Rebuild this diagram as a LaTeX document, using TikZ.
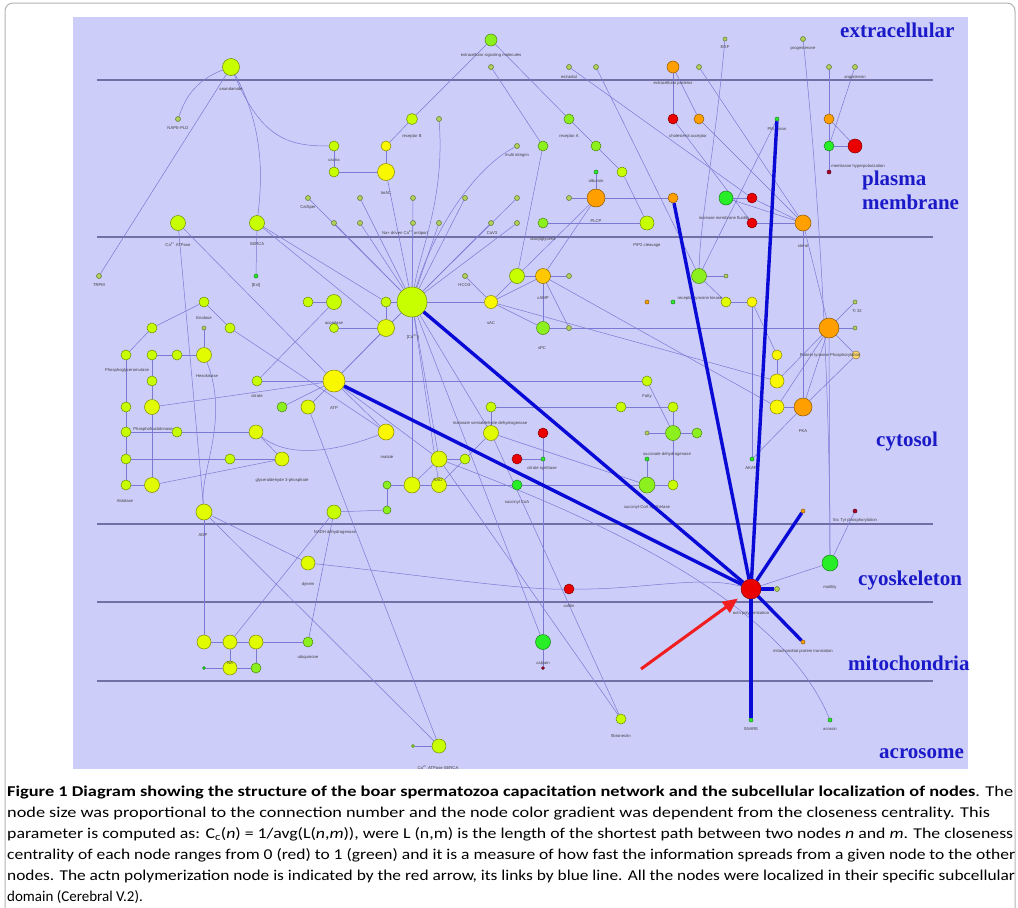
\documentclass[tikz,border=0pt]{standalone}
\usepackage{fontspec}
\usepackage{graphicx}
\usetikzlibrary{arrows.meta}
\newfontfamily\capfont{Carlito}
\newfontfamily\regfont{Liberation Serif}
\newfontfamily\lblfont{Liberation Sans}
\definecolor{panel}{RGB}{205,205,250}
\definecolor{sepc}{RGB}{112,112,165}
\definecolor{edgec}{RGB}{122,122,212}
\definecolor{thickc}{RGB}{10,10,215}
\definecolor{regc}{RGB}{26,26,200}
\definecolor{clime}{RGB}{200,255,0}
\definecolor{cylime}{RGB}{225,252,0}
\definecolor{cyellow}{RGB}{250,248,0}
\definecolor{cgold}{RGB}{255,200,0}
\definecolor{cglime}{RGB}{140,240,30}
\definecolor{cgreen}{RGB}{40,238,40}
\definecolor{corange}{RGB}{255,160,0}
\definecolor{clorange}{RGB}{255,215,110}
\definecolor{cred}{RGB}{235,0,0}
\definecolor{cdred}{RGB}{170,0,40}
\definecolor{ctiny}{RGB}{175,210,90}
\definecolor{arrc}{RGB}{240,30,30}
\pgfdeclarelayer{back}
\pgfdeclarelayer{edges}
\pgfsetlayers{back,edges,main}
\newcommand\mk[5]{\node[nd={#4}{#5}] (#1) at (#2,#3) {};}
\newcounter{lbc}
\newcommand\lbl[3]{\stepcounter{lbc}\node[lb] (lab\arabic{lbc}) at (#1,#2) {#3};}
\begin{document}
\begin{tikzpicture}[x=1pt,y=-1pt,
  nd/.style 2 args={circle,fill=#1,draw=#1!55!black,line width=0.5pt,inner sep=0pt,minimum size=#2pt},
  lb/.style={font=\lblfont\fontsize{4.2}{5}\selectfont,text=black!75,inner sep=0pt},
  ed/.style={draw=edgec,line width=0.5pt},
  thk/.style={draw=thickc,line width=3.4pt},
  region/.style={font=\regfont\bfseries\fontsize{21}{24}\selectfont,text=regc,inner sep=0pt,align=left,anchor=west},
  sepline/.style={draw=sepc,line width=1.2pt},
  arr/.style={draw=arrc,line width=3pt,-{Triangle[length=15pt,width=13pt]}},
  capline/.style={anchor=base west,inner sep=0pt,font=\capfont\fontsize{15}{18}\selectfont}
]
\useasboundingbox (0,0) rectangle (1018,908);
\begin{pgfonlayer}{back}
\draw[gray!60,line width=1pt,rounded corners=8pt] (5,3) rectangle (1015,930);
\fill[panel] (73,17) rectangle (968,769);
\foreach \yy in {80,237,524,602,681} \draw[sepline] (97,\yy) -- (933,\yy);
\end{pgfonlayer}

% region names
\node[region] (rext) at (840,30) {extracellular};
\node[region] (rpm) at (862,190) {plasma\\membrane};
\node[region] (rcyt) at (876,441) {cytosol};
\node[region] (rcsk) at (858,580) {cyoskeleton};
\node[region] (rmit) at (848,663) {mitochondria};
\node[region] (racr) at (879,754) {acrosome};

% ---- extracellular
\mk{n1}{231}{67}{clime}{17}
\mk{n2}{491}{40}{cglime}{12}
\mk{n3}{491}{67}{ctiny}{5}
\mk{n4}{569}{67}{ctiny}{5}
\mk{n5}{596}{67}{ctiny}{5}
\mk{n6}{673}{67}{corange}{12}
\mk{n7}{699}{67}{ctiny}{5}
\mk{n8}{725}{39}{ctiny}{4}
\mk{n9}{803}{39}{ctiny}{5}
\mk{n10}{829}{67}{ctiny}{5}
\mk{n11}{855}{67}{ctiny}{5}
\lbl{231}{89}{anandamide}
\lbl{491}{55}{extracellular signaling molecules}
\lbl{569}{77}{estradiol}
\lbl{673}{83}{extracellular proteins}
\lbl{725}{47}{EGF}
\lbl{803}{49}{progesterone}
\lbl{855}{77}{angiotensin}

% ---- plasma membrane
\mk{p1}{178}{119}{ctiny}{5}
\mk{p2}{334}{146}{clime}{10}
\mk{p3}{334}{172}{clime}{10}
\mk{p4}{386}{146}{cyellow}{10}
\mk{p5}{386}{172}{cyellow}{17}
\mk{p6}{412}{119}{clime}{11}
\mk{p7}{439}{119}{ctiny}{5}
\mk{p8}{517}{146}{ctiny}{5}
\mk{p9}{543}{146}{cglime}{10}
\mk{p10}{569}{119}{cglime}{10}
\mk{p11}{596}{146}{cglime}{10}
\mk{p12}{622}{172}{clime}{10}
\mk{p13}{596}{172}{cgreen}{4}
\mk{p14}{596}{198}{corange}{18}
\mk{p15}{569}{198}{ctiny}{5}
\mk{p16}{673}{198}{corange}{10}
\mk{p17}{308}{198}{ctiny}{5}
\mk{p18}{360}{198}{ctiny}{5}
\mk{p19}{334}{223}{ctiny}{5}
\mk{p20}{360}{223}{ctiny}{5}
\mk{p21}{413}{198}{ctiny}{5}
\mk{p22}{465}{198}{ctiny}{5}
\mk{p23}{517}{198}{ctiny}{5}
\mk{p24}{413}{223}{ctiny}{5}
\mk{p25}{439}{223}{ctiny}{5}
\mk{p26}{491}{223}{ctiny}{5}
\mk{p27}{517}{223}{ctiny}{5}
\mk{p28}{543}{223}{cglime}{10}
\mk{p29}{647}{223}{clime}{14}
\mk{p30}{178}{223}{clime}{15}
\mk{p31}{257}{223}{clime}{15}
\mk{p32}{673}{119}{cred}{10}
\mk{p33}{699}{119}{corange}{10}
\mk{p34}{777}{119}{cgreen}{4}
\mk{p35}{829}{119}{corange}{10}
\mk{p36}{829}{146}{cgreen}{10}
\mk{p37}{855}{146}{cred}{14}
\mk{p38}{829}{172}{cdred}{4}
\mk{p39}{726}{198}{cgreen}{14}
\mk{p40}{752}{198}{cred}{10}
\mk{p41}{752}{223}{cred}{10}
\mk{p42}{803}{223}{corange}{16}
\lbl{178}{128}{NAPE-PLD}
\lbl{334}{160}{cacna}
\lbl{386}{193}{tmAC}
\lbl{412}{136}{receptor B}
\lbl{517}{155}{multi integrin}
\lbl{569}{136}{receptor A}
\lbl{596}{181}{albumin}
\lbl{308}{207}{CatSper}
\lbl{405}{233}{Na+ driven Ca\textsuperscript{2+} antiport}
\lbl{492}{233}{CaV3}
\lbl{543}{239}{diacylglycerol}
\lbl{596}{221}{PLCP}
\lbl{647}{245}{PIP2 cleavage}
\lbl{178}{244}{Ca\textsuperscript{2+} ATPase}
\lbl{257}{244}{SERCA}
\lbl{688}{136}{cholesterol acceptor}
\lbl{777}{129}{PM fusion}
\lbl{858}{166}{membrane hyperpolarization}
\lbl{724}{218}{increase membrane fluidity}
\lbl{803}{246}{sterol}

% ---- cytosol
\mk{c1}{99}{276}{ctiny}{5}
\mk{c2}{256}{276}{cgreen}{4}
\mk{c3}{204}{302}{clime}{10}
\mk{c4}{152}{328}{clime}{10}
\mk{c5}{230}{328}{clime}{10}
\mk{c6}{204}{328}{ctiny}{4}
\mk{c7}{126}{355}{clime}{10}
\mk{c8}{152}{355}{clime}{10}
\mk{c9}{177}{355}{clime}{10}
\mk{c10}{204}{355}{cylime}{15}
\mk{c11}{152}{381}{clime}{10}
\mk{c12}{126}{407}{clime}{10}
\mk{c13}{152}{407}{cylime}{15}
\mk{c14}{126}{432}{clime}{10}
\mk{c15}{177}{432}{clime}{10}
\mk{c16}{126}{459}{clime}{10}
\mk{c17}{230}{459}{clime}{10}
\mk{c18}{126}{485}{clime}{10}
\mk{c19}{152}{485}{cylime}{15}
\mk{c20}{256}{432}{cylime}{14}
\mk{c21}{282}{459}{cylime}{14}
\mk{c22}{257}{381}{clime}{10}
\mk{c23}{282}{407}{cglime}{10}
\mk{c24}{308}{407}{cylime}{14}
\mk{c25}{334}{381}{cyellow}{22}
\mk{c26}{308}{302}{clime}{10}
\mk{c27}{334}{302}{clime}{15}
\mk{c28}{334}{328}{clime}{9}
\mk{c29}{386}{302}{clime}{10}
\mk{c30}{386}{328}{cylime}{17}
\mk{c31}{412}{302}{clime}{30}
\mk{c32}{386}{432}{cyellow}{16}
\mk{c33}{465}{276}{ctiny}{5}
\mk{c34}{517}{276}{clime}{15}
\mk{c35}{543}{276}{cgold}{15}
\mk{c36}{569}{276}{ctiny}{5}
\mk{c37}{491}{302}{cyellow}{13}
\mk{c38}{543}{328}{cglime}{13}
\mk{c39}{569}{328}{ctiny}{5}
\mk{c40}{647}{302}{corange}{4}
\mk{c41}{673}{302}{cgreen}{4}
\mk{c42}{699}{276}{cglime}{15}
\mk{c43}{726}{276}{ctiny}{4}
\mk{c44}{726}{302}{cylime}{10}
\mk{c45}{752}{302}{cyellow}{10}
\mk{c46}{829}{328}{corange}{20}
\mk{c47}{855}{302}{ctiny}{4}
\mk{c48}{855}{328}{ctiny}{4}
\mk{c49}{856}{355}{clorange}{8}
\mk{c50}{777}{355}{cyellow}{10}
\mk{c51}{777}{381}{cyellow}{14}
\mk{c52}{777}{407}{cyellow}{14}
\mk{c53}{803}{407}{corange}{18}
\mk{c54}{752}{459}{cgreen}{4}
\mk{c55}{647}{381}{clime}{10}
\mk{c56}{621}{407}{clime}{10}
\mk{c57}{673}{407}{clime}{10}
\mk{c58}{647}{433}{ctiny}{4}
\mk{c59}{673}{433}{cglime}{15}
\mk{c60}{697}{433}{cglime}{10}
\mk{c61}{647}{459}{cgreen}{4}
\mk{c62}{647}{485}{cglime}{16}
\mk{c63}{673}{485}{clime}{10}
\mk{c64}{491}{407}{clime}{10}
\mk{c65}{491}{433}{cylime}{15}
\mk{c66}{543}{433}{cred}{10}
\mk{c67}{517}{459}{cred}{10}
\mk{c68}{543}{459}{cgreen}{4}
\mk{c69}{439}{459}{cylime}{16}
\mk{c70}{465}{459}{clime}{10}
\mk{c71}{387}{485}{cglime}{8}
\mk{c72}{412}{485}{cylime}{16}
\mk{c73}{439}{485}{cylime}{15}
\mk{c74}{517}{485}{cgreen}{10}
\mk{c75}{387}{510}{cglime}{8}
\mk{c76}{204}{512}{cylime}{16}
\mk{c77}{334}{512}{clime}{14}
\mk{c81}{803}{511}{corange}{4}
\mk{c82}{855}{511}{cdred}{4}
\lbl{99}{285}{TRPM}
\lbl{256}{285}{[Ext]}
\lbl{204}{318}{Enolase}
\lbl{127}{370}{Phosphoglyceromutase}
\lbl{207}{376}{Hexokinase}
\lbl{153}{429}{Phosphofructokinase}
\lbl{125}{501}{Aldolase}
\lbl{282}{480}{glyceraldehyde 3-phosphate}
\lbl{257}{396}{citrate}
\lbl{334}{408}{ATP}
\lbl{334}{323}{aconitase}
\lbl{413}{337}{[Ca\textsuperscript{2+}]i}
\lbl{465}{285}{HCO3-}
\lbl{543}{298}{cAMP}
\lbl{491}{323}{sAC}
\lbl{542}{348}{sPC}
\lbl{700}{298}{receptor tyrosine kinase}
\lbl{857}{311}{Tr 32}
\lbl{830}{355}{Protein tyrosine Phosphorylation}
\lbl{803}{431}{PKA}
\lbl{751}{468}{AKAP}
\lbl{647}{396}{Fatty}
\lbl{667}{454}{succinate dehydrogenase}
\lbl{647}{507}{succinyl-CoA synthetase}
\lbl{490}{423}{malonate semialdehyde dehydrogenase}
\lbl{542}{468}{citrate synthase}
\lbl{387}{457}{malate}
\lbl{438}{480}{NAD}
\lbl{517}{502}{succinyl CoA}
\lbl{203}{535}{ADP}
\lbl{335}{532}{NADH dehydrogenase}
\lbl{855}{520}{Src Tyr phosphorylation}

% ---- cytoskeleton
\mk{k1}{308}{563}{cylime}{14}
\mk{k2}{751}{589}{cred}{20}
\mk{k3}{777}{589}{ctiny}{5}
\mk{k4}{830}{563}{cgreen}{16}
\mk{k5}{569}{589}{cred}{10}
\lbl{308}{584}{dynein}
\lbl{751}{613}{actn polymerization}
\lbl{830}{587}{motility}
\lbl{569}{606}{cofilin}

% ---- mitochondria
\mk{m1}{204}{642}{cylime}{14}
\mk{m2}{230}{642}{cylime}{14}
\mk{m3}{256}{642}{cylime}{14}
\mk{m4}{308}{642}{cglime}{10}
\mk{m5}{204}{668}{cgreen}{3}
\mk{m6}{230}{668}{cylime}{14}
\mk{m7}{256}{668}{cglime}{10}
\mk{m8}{543}{642}{cgreen}{15}
\mk{m9}{543}{668}{cdred}{3}
\mk{m10}{803}{642}{corange}{4}
\lbl{308}{657}{ubiquinone}
\lbl{230}{663}{NA}
\lbl{543}{663}{calpain}
\lbl{803}{651}{mitochondrial protein translation}

% ---- acrosome
\mk{a1}{621}{719}{clime}{10}
\mk{a2}{751}{720}{cgreen}{4}
\mk{a3}{830}{720}{cgreen}{4}
\mk{a4}{439}{746}{clime}{14}
\mk{a5}{413}{746}{cglime}{3}
\lbl{621}{736}{fibronectin}
\lbl{751}{729}{SNARE}
\lbl{830}{729}{acrosin}
\lbl{438}{767}{Ca\textsuperscript{2+} ATPase SERCA}

\coordinate (arrtail) at (641,669);

\begin{pgfonlayer}{edges}
\foreach \a/\b in {n1/c1,n2/p6,n2/p10,n3/p9,p6/p4,p4/p5,p2/p3,p3/p5,p10/p11,p11/p12,p12/p29,
  p13/p14,p15/p14,p14/p16,p28/p29,p14/c34,p14/c35,p9/c34,
  p5/c31,p17/c31,p18/c31,p19/c31,p20/c31,p21/c31,p22/c31,p23/c31,p24/c31,p25/c31,p26/c31,p27/c31,
  n4/p40,n5/c42,n7/p42,p32/p41,n6/p32,n6/p33,n10/p35,n11/p36,p35/p36,p35/p37,p36/p37,p36/p38,
  p34/c42,p39/p40,p39/p42,p41/p42,p40/p42,p33/p42,
  p42/c46,p42/c53,c46/c47,c46/c48,c46/c49,c46/c51,c46/c52,c46/c53,c50/c51,c52/c53,c53/c49,c53/c54,
  c42/c43,c42/c44,c44/c45,c45/c50,c35/c52,c37/c51,c38/c46,c46/k4,c82/k4,
  p30/c25,p30/c76,p31/c2,p31/c29,p31/c30,
  c3/c4,c4/c7,c3/c5,c5/c32,c6/c10,c8/c9,c9/c10,c8/c11,c11/c13,c13/c19,c7/c12,c12/c14,c14/c16,c16/c18,
  c14/c15,c15/c20,c16/c17,c17/c21,c18/c19,c20/c21,c13/c25,c22/c25,c22/c27,c24/c25,c23/c25,c19/c21,
  c26/c27,c28/c30,c29/c30,c30/c31,c29/c31,c25/c31,c25/c30,c25/c32,c25/c69,
  c31/c37,c31/c65,c31/c69,c31/c72,c31/c73,c31/m8,
  c33/c37,c34/c37,c35/c37,c35/c39,c37/c38,c35/c38,c36/c34,
  c55/c59,c56/c57,c57/c59,c58/c59,c59/c60,c61/c62,c62/c63,c63/c59,c64/c65,c64/c56,c65/c73,
  c66/m8,c67/c68,c69/c72,c69/c70,c71/c72,c72/c73,c73/c74,c74/c62,c65/c62,c71/c75,
  c76/m1,c76/k1,c77/m2,c77/m4,c77/c75,m1/m2,m2/m3,m3/m4,m2/m6,m3/m7,m5/m6,m6/m7,m8/m9,
  a4/a5,c76/a4,c24/a4,c65/a1,c69/a1,c45/c54,c25/c55,k4/k2}
  \draw[ed] (\a) -- (\b);
\draw[ed] (n1) to[bend right=25] (p1);
\draw[ed] (n1) .. controls (262,140) and (290,146) .. (p2);
\draw[ed] (n1) .. controls (265,130) and (262,180) .. (p31);
\draw[ed] (p7) .. controls (445,200) and (420,250) .. (c31);
\draw[ed] (p8) .. controls (470,170) and (430,240) .. (c31);
\draw[ed] (n8) .. controls (715,150) and (700,220) .. (c42);
\draw[ed] (n9) .. controls (820,200) and (830,400) .. (k4);
\draw[ed] (c20) .. controls (290,460) and (340,450) .. (c32);
\draw[ed] (c10) .. controls (230,420) and (200,470) .. (c76);
\draw[ed] (k1) .. controls (420,575) and (520,590) .. (k5);
\draw[ed] (k5) .. controls (640,590) and (700,575) .. (k2);
\draw[ed] (c69) .. controls (600,520) and (780,600) .. (a3);
\end{pgfonlayer}

\foreach \t in {c25,c31,p16,p34,c81,k3,m10,a2}
  \draw[thk] (k2) -- (\t);
\draw[arr,shorten >=6pt] (arrtail) -- (k2);

% caption
\node[capline] (cap1) at (7,796) {\resizebox{1006pt}{\height}{\textbf{Figure 1 Diagram showing the structure of the boar spermatozoa capacitation network and the subcellular localization of nodes}. The}};
\node[capline] (cap2) at (7,817) {\resizebox{983pt}{\height}{node size was proportional to the connection number and the node color gradient was dependent from the closeness centrality. This}};
\node[capline] (cap3) at (7,838) {\resizebox{1006pt}{\height}{parameter is computed as: C\textsubscript{c}(\textit{n}) = 1/avg(L(\textit{n},\textit{m})), were L (n,m) is the length of the shortest path between two nodes \textit{n} and \textit{m}. The closeness}};
\node[capline] (cap4) at (7,859) {\resizebox{1008pt}{\height}{centrality of each node ranges from 0 (red) to 1 (green) and it is a measure of how fast the information spreads from a given node to the other}};
\node[capline] (cap5) at (7,880) {\resizebox{1008pt}{\height}{nodes. The actn polymerization node is indicated by the red arrow, its links by blue line. All the nodes were localized in their specific subcellular}};
\node[capline] (cap6) at (7,901) {domain (Cerebral V.2).};
\end{tikzpicture}
\end{document}
